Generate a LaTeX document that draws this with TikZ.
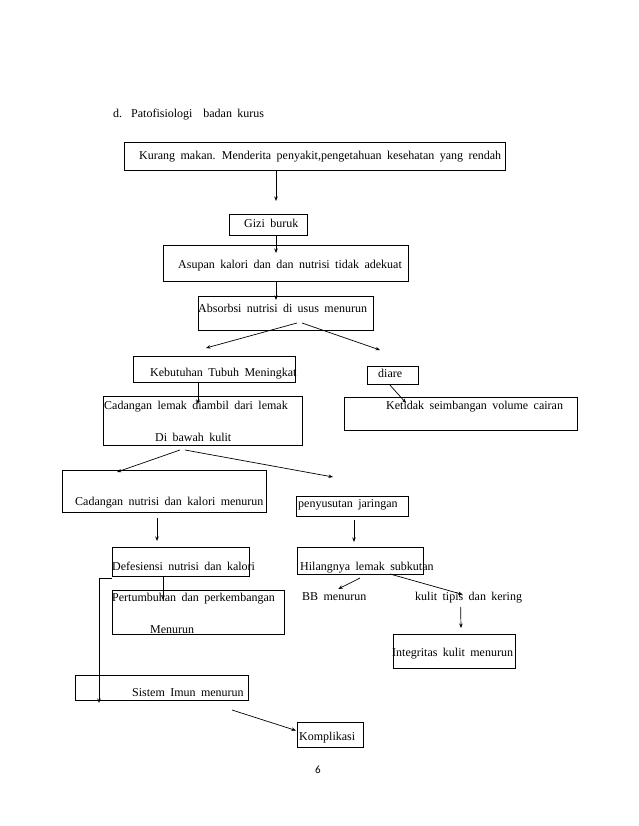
\documentclass[tikz,border=0pt]{standalone}
\usepackage{fontspec}
\setmainfont{Liberation Serif}[WordSpace=1.8]
\newfontfamily\numfont{Carlito}
\usetikzlibrary{arrows.meta}

\begin{document}
\begin{tikzpicture}[x=1pt,y=-1pt,>={Stealth[length=4.5pt,width=3.5pt]},
  font=\fontsize{12}{14}\selectfont,
  bx/.style={draw,line width=0.8pt,anchor=north west,inner sep=0pt,outer sep=0pt},
  tx/.style={anchor=base west,inner sep=0pt},
  ar/.style={->,line width=0.7pt}]
  \useasboundingbox (0,0) rectangle (638,826);
  \node[tx] (d)     at (113,118) {d.};
  \node[tx] (judul) at (131,118) {Patofisiologi \ badan kurus};
  \node[bx,minimum width=381pt,minimum height=28pt] (kurang)      at (124,142) {};
  \node[bx,minimum width=78pt, minimum height=21pt] (gizi)        at (229,214) {};
  \node[bx,minimum width=245pt,minimum height=36pt] (asupan)      at (163,245) {};
  \node[bx,minimum width=175pt,minimum height=34pt] (absorbsi)    at (198,296) {};
  \node[bx,minimum width=162pt,minimum height=26pt] (kebutuhan)   at (133,356) {};
  \node[bx,minimum width=51pt, minimum height=18pt] (diare)       at (367,366) {};
  \node[bx,minimum width=199pt,minimum height=49pt] (lemak)       at (103,396) {};
  \node[bx,minimum width=233pt,minimum height=33pt] (ketidak)     at (344,397) {};
  \node[bx,minimum width=204pt,minimum height=42pt] (nutrisi)     at (62,470)  {};
  \node[bx,minimum width=112pt,minimum height=20pt] (penyusutan)  at (296,496) {};
  \node[bx,minimum width=137pt,minimum height=29pt] (defisiensi)  at (112,547) {};
  \node[bx,minimum width=126pt,minimum height=27pt] (hilangnya)   at (297,547) {};
  \node[bx,minimum width=172pt,minimum height=44pt] (pertumbuhan) at (112,590) {};
  \node[bx,minimum width=122pt,minimum height=34pt] (integritas)  at (393,634) {};
  \node[bx,minimum width=173pt,minimum height=25pt] (imun)        at (75,675)  {};
  \node[bx,minimum width=66pt, minimum height=25pt] (komplikasi)  at (297,722) {};
  \node[tx] (kurangT)      at (139,160) {Kurang makan. Menderita penyakit,pengetahuan kesehatan yang rendah};
  \node[tx] (giziT)        at (244,227) {Gizi buruk};
  \node[tx] (asupanT)      at (178,268) {Asupan kalori dan dan nutrisi tidak adekuat};
  \node[tx] (absorbsiT)    at (198,312) {Absorbsi nutrisi di usus menurun};
  \node[tx] (kebutuhanT)   at (150,376) {Kebutuhan Tubuh Meningkat};
  \node[tx] (diareT)       at (378,377) {diare};
  \node[tx] (lemakT)       at (104,409) {Cadangan lemak diambil dari lemak};
  \node[tx] (lemakT2)      at (155,441) {Di bawah kulit};
  \node[tx] (ketidakT)     at (386,409) {Ketidak seimbangan volume cairan};
  \node[tx] (nutrisiT)     at (75,505)  {Cadangan nutrisi dan kalori menurun};
  \node[tx] (penyusutanT)  at (298,507) {penyusutan jaringan};
  \node[tx] (defisiensiT)  at (112,570) {Defesiensi nutrisi dan kalori};
  \node[tx] (hilangnyaT)   at (300,570) {Hilangnya lemak subkutan};
  \node[tx] (pertumbuhanT) at (112,601) {Pertumbuhan dan perkembangan};
  \node[tx] (pertumbuhanT2) at (150,633) {Menurun};
  \node[tx] (bbT)          at (302,600) {BB menurun};
  \node[tx] (kulitT)       at (415,600) {kulit tipis dan kering};
  \node[tx] (integritasT)  at (392,656) {Integritas kulit menurun};
  \node[tx] (imunT)        at (132,696) {Sistem Imun menurun};
  \node[tx] (komplikasiT)  at (299,740) {Komplikasi};
  \node[tx,font=\numfont\fontsize{11}{13}\selectfont] (hal) at (315,773) {6};
  \draw[ar] ([xshift=-38.5pt]kurang.south) -- ([xshift=8pt,yshift=13pt]gizi.north);
  \draw[ar] ([xshift=8pt]gizi.south) -- ([xshift=-9.5pt,yshift=-8pt]asupan.north);
  \draw[ar] ([xshift=-9.5pt]asupan.south) -- ([xshift=-9.5pt,yshift=-4pt]absorbsi.north);
  \draw[ar] ([xshift=11.5pt,yshift=7pt]absorbsi.south) -- ([xshift=-8pt,yshift=8pt]kebutuhan.north);
  \draw[ar] ([xshift=16.5pt,yshift=7pt]absorbsi.south) -- ([xshift=-12.5pt,yshift=16pt]diare.north);
  \draw[ar] ([xshift=-16pt]kebutuhan.south) -- ([xshift=-4.5pt,yshift=-8pt]lemak.north);
  \draw[ar] ([xshift=-3.5pt]diare.south) -- ([xshift=-54.5pt,yshift=-6pt]ketidak.north);
  \draw[ar] ([xshift=-22.5pt,yshift=-5pt]lemak.south) -- ([xshift=-47pt,yshift=-2pt]nutrisi.north);
  \draw[ar] ([xshift=-17.5pt,yshift=-5pt]lemak.south) -- ([xshift=-19pt,yshift=19pt]penyusutan.north);
  \draw[ar] ([xshift=-7pt,yshift=-6pt]nutrisi.south) -- ([xshift=-23.5pt,yshift=6pt]defisiensi.north);
  \draw[ar] ([xshift=2pt,yshift=-4pt]penyusutan.south) -- ([xshift=-6pt,yshift=5pt]hilangnya.north);
  \draw[ar] ([xshift=-17.5pt]defisiensi.south) -- ([xshift=-35pt,yshift=-10pt]pertumbuhan.north);
  \draw[ar] ([yshift=-4pt]hilangnya.south) -- ([xshift=4pt,yshift=3pt]bbT.north);
  \draw[ar] ([xshift=30pt]hilangnya.south) -- ([xshift=-6pt,yshift=-3pt]kulitT.north);
  \draw[ar] ([xshift=-8pt,yshift=-4pt]kulitT.south) -- ([xshift=7pt,yshift=6pt]integritas.north);
  \draw[ar] ([yshift=-2pt]defisiensi.south west) -| ([xshift=24pt,yshift=-3pt]imun.south west);
  \draw[ar] ([xshift=-16pt,yshift=-10pt]imun.south east) -- ([xshift=-1pt,yshift=4pt]komplikasi.west);
\end{tikzpicture}
\end{document}
